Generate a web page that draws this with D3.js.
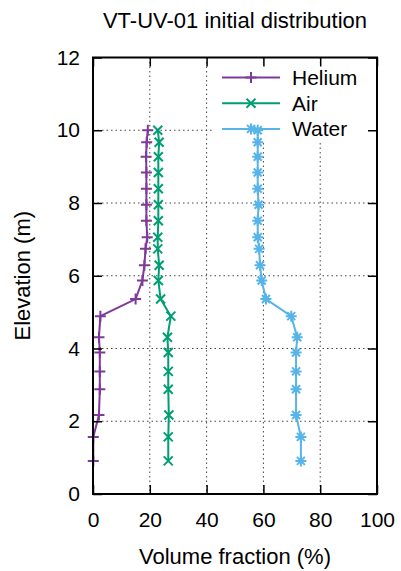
<!DOCTYPE html>
<html>
<head>
<meta charset="utf-8">
<script src="https://cdn.jsdelivr.net/npm/d3@7"></script>
<style>
  body { margin: 0; background: #fff; }
  text { font-family: "Liberation Sans", Arial, sans-serif; fill: #000; }
</style>
</head>
<body>
<div class="center"></div>
<script>
// chart data
var elevation = [10.0, 9.67, 9.27, 8.84, 8.39, 7.95, 7.51, 7.06, 6.74, 6.29, 5.87, 5.36, 4.89, 4.31, 3.89, 3.37, 2.88, 2.17, 1.57, 0.91];
var helium = [19.3, 18.9, 18.7, 18.8, 18.8, 18.8, 18.8, 19.1, 18.5, 18.1, 17.4, 15.0, 2.6, 2.1, 2.4, 2.4, 2.4, 2.1, 0.1, 0.1];
var air = [22.8, 23.3, 23.0, 23.0, 23.0, 23.0, 23.0, 22.8, 22.8, 23.3, 23.0, 23.8, 27.4, 26.2, 26.5, 26.5, 26.5, 26.7, 26.5, 26.5];
var water = [58.0, 58.0, 58.0, 58.0, 58.0, 58.3, 58.0, 58.0, 58.5, 58.8, 59.4, 60.9, 69.8, 71.9, 71.5, 71.5, 71.5, 71.5, 73.2, 73.2];
var seriesNames = ["Helium", "Air", "Water"];
var xTicks = [0, 20, 40, 60, 80, 100];
var yTicks = [0, 2, 4, 6, 8, 10, 12];

var margin = {top: 57.5, right: 24, bottom: 77, left: 93},
    width = 401 - margin.left - margin.right,
    height = 571 - margin.top - margin.bottom;

var x = d3.scaleLinear().domain([0, 100]).range([0, width]);
var y = d3.scaleLinear().domain([0, 12]).range([height, 0]);

var fontSize = "21px",
    labelSize = "22px";
var colors = ["#7e3a9a", "#009e73", "#56b4e9"];
// gnuplot point types: plus, cross, star
var markers = [
    "M-5.5,0H5.5M0,-5.5V5.5",
    "M-4.5,-4.5L4.5,4.5M-4.5,4.5L4.5,-4.5",
    "M-5.5,0H5.5M0,-5.5V5.5M-4,-4L4,4M-4,4L4,-4"
];

var series = [helium, air, water].map(function(vals, i) {
    return {
        name: seriesNames[i],
        color: colors[i],
        marker: markers[i],
        points: vals.map(function(v, j) { return {v: v, e: elevation[j]}; })
    };
});

var svg = d3.select(".center").append("svg")
    .attr("width", 401)
    .attr("height", 571);

var g = svg.append("g")
    .attr("transform", "translate(" + margin.left + "," + margin.top + ")");

// grid lines (inner ticks only)
g.append("g").selectAll("line")
    .data(xTicks.slice(1, -1))
    .enter().append("line")
    .attr("x1", function(d) { return x(d); })
    .attr("x2", function(d) { return x(d); })
    .attr("y1", 0)
    .attr("y2", height)
    .attr("stroke", "#444")
    .attr("stroke-width", 1)
    .attr("stroke-dasharray", "1.5,3");

g.append("g").selectAll("line")
    .data(yTicks.slice(1, -1))
    .enter().append("line")
    .attr("x1", 0)
    .attr("x2", width)
    .attr("y1", function(d) { return y(d); })
    .attr("y2", function(d) { return y(d); })
    .attr("stroke", "#444")
    .attr("stroke-width", 1)
    .attr("stroke-dasharray", "1.5,3");

// opaque key background
var legend = g.append("g").attr("transform", "translate(120,0)");
legend.append("rect")
    .attr("x", 0)
    .attr("y", 5)
    .attr("width", width - 121)
    .attr("height", 79)
    .attr("fill", "#fff");

// data lines and points
var line = d3.line()
    .x(function(d) { return x(d.v); })
    .y(function(d) { return y(d.e); });

series.forEach(function(s) {
    g.append("path")
        .datum(s.points)
        .attr("fill", "none")
        .attr("stroke", s.color)
        .attr("stroke-width", 2)
        .attr("d", line);

    g.append("g").selectAll("path")
        .data(s.points)
        .enter().append("path")
        .attr("transform", function(d) { return "translate(" + x(d.v) + "," + y(d.e) + ")"; })
        .attr("d", s.marker)
        .attr("fill", "none")
        .attr("stroke", s.color)
        .attr("stroke-width", 2);
});

// legend entries
series.forEach(function(s, i) {
    var ly = 20 + i * 25.7;
    legend.append("line")
        .attr("x1", 9)
        .attr("x2", 67)
        .attr("y1", ly)
        .attr("y2", ly)
        .attr("stroke", s.color)
        .attr("stroke-width", 2);
    legend.append("path")
        .attr("transform", "translate(38," + ly + ")")
        .attr("d", s.marker)
        .attr("fill", "none")
        .attr("stroke", s.color)
        .attr("stroke-width", 2);
    legend.append("text")
        .attr("x", 79)
        .attr("y", ly)
        .attr("dy", "0.36em")
        .attr("font-size", fontSize)
        .text(s.name);
});

// axes with inward ticks, mirrored on top and right
var tick = 9;
function styleAxis(sel) {
    sel.select(".domain").remove();
    sel.selectAll(".tick line").attr("stroke", "#000").attr("stroke-width", 1.5);
    sel.selectAll(".tick text").attr("font-size", fontSize).attr("font-family", "'Liberation Sans', Arial, sans-serif").attr("fill", "#000");
}

g.append("g")
    .attr("transform", "translate(0," + height + ")")
    .call(d3.axisBottom(x).tickValues(xTicks).tickSizeInner(-tick).tickSizeOuter(0).tickPadding(18))
    .call(styleAxis);

g.append("g")
    .call(d3.axisLeft(y).tickValues(yTicks).tickSizeInner(-tick).tickSizeOuter(0).tickPadding(13))
    .call(styleAxis);

g.append("g")
    .call(d3.axisTop(x).tickValues(xTicks).tickSizeInner(-tick).tickSizeOuter(0).tickFormat(""))
    .call(styleAxis);

g.append("g")
    .attr("transform", "translate(" + width + ",0)")
    .call(d3.axisRight(y).tickValues(yTicks).tickSizeInner(-tick).tickSizeOuter(0).tickFormat(""))
    .call(styleAxis);

// frame
g.append("rect")
    .attr("x", 0)
    .attr("y", 0)
    .attr("width", width)
    .attr("height", height)
    .attr("fill", "none")
    .attr("stroke", "#000")
    .attr("stroke-width", 2);

// Label for X Axis
svg.append("text")
    .attr("font-size", labelSize)
    .attr("x", margin.left + width / 2)
    .attr("y", 564)
    .attr("text-anchor", "middle")
    .text("Volume fraction (%)");

// Label for Y Axis
svg.append("text")
    .attr("font-size", labelSize)
    .attr("transform", "rotate(-90)")
    .attr("x", -(margin.top + height / 2))
    .attr("y", 30)
    .attr("text-anchor", "middle")
    .text("Elevation (m)");

// Chart Title
svg.append("text")
    .attr("font-size", labelSize)
    .attr("x", margin.left + width / 2)
    .attr("y", 28)
    .attr("text-anchor", "middle")
    .text("VT-UV-01 initial distribution");
</script>
</body>
</html>
